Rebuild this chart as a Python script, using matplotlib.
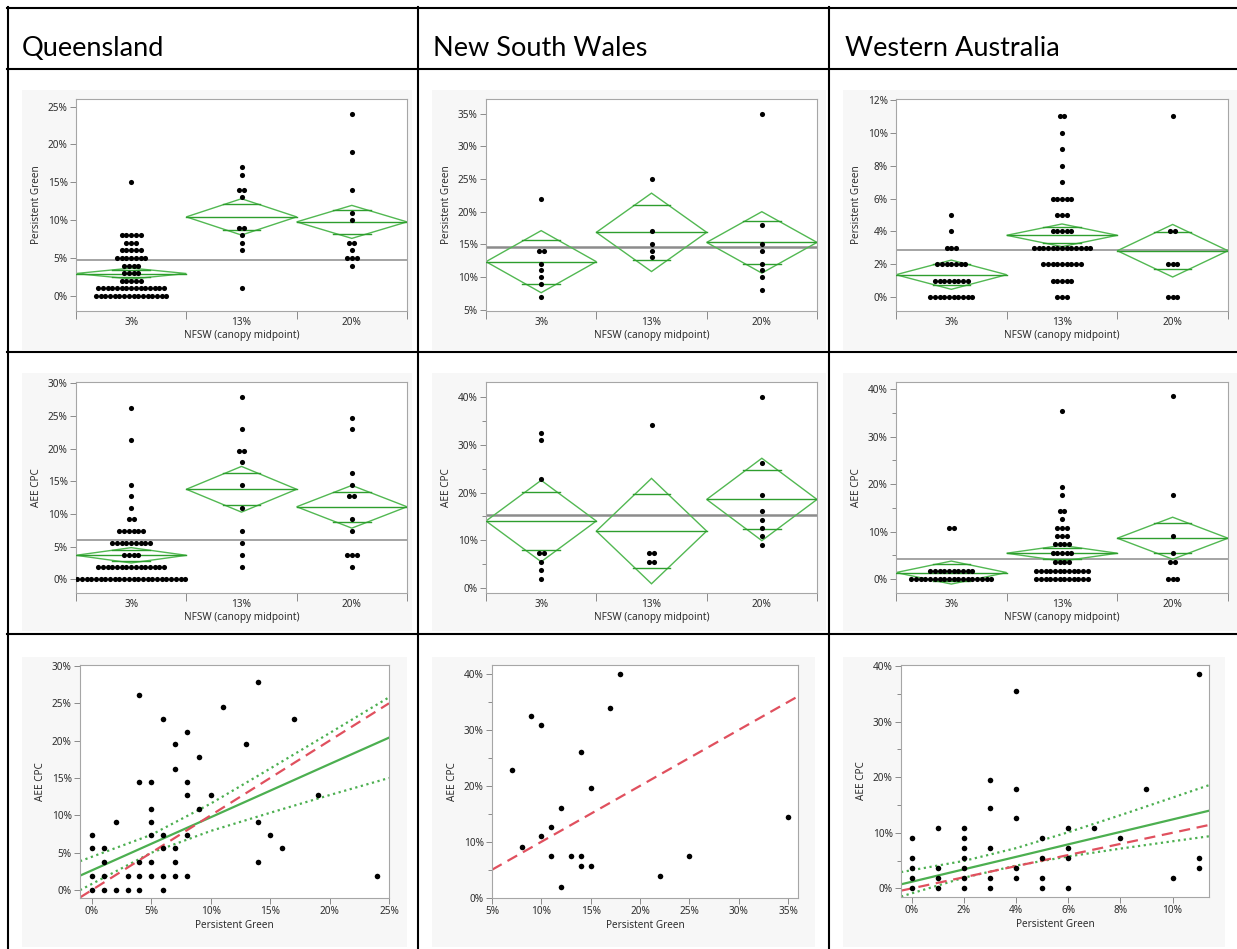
import matplotlib
matplotlib.use('Agg')
import matplotlib.pyplot as plt
import numpy as np
from matplotlib.lines import Line2D
from matplotlib.patches import Rectangle, Polygon
from matplotlib.ticker import FuncFormatter, MultipleLocator, FixedLocator, NullFormatter

plt.rcParams['font.family'] = ['Noto Sans', 'DejaVu Sans']

# ------------------------------------------------------------------ data
states = ["Queensland", "New South Wales", "Western Australia"]
nfsw_levels = ["3%", "13%", "20%"]

# Persistent Green (%) by NFSW group: values and number of sites at each value
qld_pg_vals = [[0, 1, 2, 3, 4, 5, 6, 7, 8, 15], [1, 6, 7, 8, 9, 13, 14, 16, 17], [4, 5, 6, 7, 10, 11, 14, 19, 24]]
qld_pg_counts = [[16, 15, 5, 4, 4, 7, 5, 3, 5, 1], [1, 1, 1, 1, 2, 1, 2, 1, 1], [1, 3, 1, 2, 1, 1, 1, 1, 1]]
nsw_pg_vals = [[7, 9, 10, 11, 12, 14, 22], [13, 14, 15, 17, 25], [8, 10, 11, 12, 14, 15, 18, 35]]
nsw_pg_counts = [[1, 1, 1, 1, 1, 2, 1], [1, 1, 1, 1, 1], [1, 1, 1, 1, 1, 1, 1, 1]]
wa_pg_vals = [[0, 1, 2, 3, 4, 5], [0, 1, 2, 3, 4, 5, 6, 7, 8, 9, 10, 11], [0, 2, 4, 11]]
wa_pg_counts = [[10, 8, 7, 3, 1, 1], [3, 5, 9, 13, 5, 3, 5, 1, 1, 1, 1, 2], [3, 3, 2, 1]]

# AEE CPC (%) by NFSW group
qld_aee_vals = [[0, 1.84, 3.67, 5.56, 7.35, 9.18, 10.97, 12.7, 14.44, 21.33, 26.28],
                [1.84, 3.67, 5.56, 7.35, 10.97, 14.44, 17.9, 19.64, 22.96, 27.86],
                [1.84, 3.67, 7.35, 9.18, 12.7, 14.44, 16.22, 22.96, 24.64]]
qld_aee_counts = [[24, 15, 4, 9, 6, 2, 1, 1, 1, 1, 1], [1, 1, 1, 1, 1, 1, 1, 2, 1, 1], [1, 3, 1, 1, 2, 1, 1, 1, 1]]
nsw_aee_vals = [[1.88, 3.76, 5.57, 7.37, 22.89, 30.89, 32.49], [5.57, 7.37, 34.0],
                [9.04, 10.92, 12.66, 14.33, 16.14, 19.48, 26.09, 40.0]]
nsw_aee_counts = [[1, 1, 1, 2, 1, 1, 1], [2, 2, 1], [1, 1, 1, 1, 1, 1, 1, 1]]
wa_aee_vals = [[0, 1.82, 10.88],
               [0, 1.82, 3.72, 5.56, 7.37, 9.12, 10.88, 12.63, 14.39, 17.75, 19.5, 35.5],
               [0, 3.72, 5.47, 9.12, 17.75, 38.46]]
wa_aee_counts = [[18, 10, 2], [12, 12, 4, 5, 4, 3, 3, 1, 2, 1, 1, 1], [3, 2, 1, 1, 1, 1]]

# Means diamonds: group mean, 95% CI half-width, grand mean
qld_pg_means, qld_pg_ci, qld_pg_grand = [2.95, 10.43, 9.77], [0.72, 2.4, 2.18], 4.71
nsw_pg_means, nsw_pg_ci, nsw_pg_grand = [12.35, 16.84, 15.3], [4.75, 6.0, 4.7], 14.64
wa_pg_means, wa_pg_ci, wa_pg_grand = [1.36, 3.76, 2.82], [0.89, 0.69, 1.6], 2.84
qld_aee_means, qld_aee_ci, qld_aee_grand = [3.67, 13.78, 11.1], [1.17, 3.5, 3.27], 6.02
nsw_aee_means, nsw_aee_ci, nsw_aee_grand = [14.05, 11.95, 18.55], [8.5, 11.0, 8.6], 15.23
wa_aee_means, wa_aee_ci, wa_aee_grand = [1.4, 5.47, 8.63], [2.42, 1.65, 4.42], 4.21

# Scatter: Persistent Green (x) vs AEE CPC (y)
qld_sc_pg = [0, 0, 0, 0, 1, 1, 1, 1, 2, 2, 3, 3, 4, 4, 4, 4, 4, 5, 5, 5, 5, 5, 5, 6, 6, 6, 6, 6,
             7, 7, 7, 7, 7, 8, 8, 8, 8, 8, 9, 9, 10, 11, 13, 14, 14, 14, 15, 16, 17, 19, 24]
qld_sc_aee = [7.37, 5.58, 1.92, 0, 5.58, 3.8, 1.92, 0, 9.15, 0, 1.92, 0, 26.1, 14.4, 3.8, 1.92, 0,
              14.4, 10.9, 9.15, 7.37, 3.8, 1.92, 22.86, 7.37, 5.58, 1.92, 0,
              19.55, 16.16, 5.58, 3.8, 1.92, 21.2, 14.4, 12.7, 7.37, 1.92, 17.86, 10.9, 12.7,
              24.5, 19.55, 27.8, 9.15, 3.8, 7.37, 5.58, 22.86, 12.7, 1.92]
nsw_sc_pg = [7, 8, 9, 10, 10, 11, 11, 12, 12, 13, 14, 14, 14, 15, 15, 17, 18, 22, 25, 35]
nsw_sc_aee = [22.9, 9.1, 32.5, 30.9, 10.97, 12.7, 7.4, 16.1, 1.97, 7.4, 26.1, 7.4, 5.6, 19.55,
              5.6, 34.0, 40.0, 3.8, 7.4, 14.4]
wa_sc_pg = [0, 0, 0, 0, 0, 1, 1, 1, 1, 2, 2, 2, 2, 2, 2, 2, 3, 3, 3, 3, 3, 4, 4, 4, 4, 4,
            5, 5, 5, 5, 6, 6, 6, 6, 7, 8, 9, 10, 11, 11, 11]
wa_sc_aee = [9.1, 5.5, 3.7, 1.86, 0, 10.9, 3.7, 1.86, 0, 10.9, 9.1, 7.3, 5.5, 3.7, 1.86, 0,
             19.55, 14.4, 7.3, 1.86, 0, 35.6, 17.9, 12.6, 3.7, 1.86, 9.1, 5.5, 1.86, 0,
             10.9, 7.3, 5.5, 0, 10.9, 9.1, 17.9, 1.86, 38.5, 5.5, 3.7]

# Linear fits with 95% confidence curves (read along the x range)
qld_fit_x = [-1, 5, 10, 15, 20, 25]
qld_fit_y = [1.92, 6.19, 9.74, 13.3, 16.86, 20.4]
qld_fit_hi = [3.86, 7.39, 11.57, 16.26, 21.01, 25.8]
qld_fit_lo = [-0.02, 4.99, 7.91, 10.34, 12.71, 15.0]
wa_fit_x = [-0.42, 2, 4, 6, 8, 10, 11.4]
wa_fit_y = [0.72, 3.43, 5.67, 7.92, 10.16, 12.4, 13.97]
wa_fit_hi = [2.92, 4.94, 7.24, 10.1, 13.17, 16.33, 18.57]
wa_fit_lo = [-1.48, 1.92, 4.1, 5.74, 7.15, 8.47, 9.37]

# ------------------------------------------------------------------ style
W, H = 1237, 949
fig = plt.figure(figsize=(W / 100, H / 100), dpi=100)

BG = '#f7f7f7'
FRAME = '#a6a6a6'
TXT = '#2e2e2e'
DIAM = '#52b852'
MEANC = '#2e9e2e'
FITG = '#4caf50'
RED = '#e0505e'
MS = 3.7
pct = FuncFormatter(lambda v, p: f"{v:g}%")


def fx(x):
    return x / W


def fy(y):
    return 1 - y / H


def px_axes(l, t, r, b):
    return fig.add_axes([l / W, 1 - b / H, (r - l) / W, (b - t) / H])


def bg(l, t, r, b):
    fig.add_artist(Rectangle((fx(l), fy(b)), (r - l) / W, (b - t) / H, transform=fig.transFigure,
                             facecolor=BG, edgecolor='none', zorder=0))


def style_axes(ax):
    for s in ax.spines.values():
        s.set_color(FRAME)
        s.set_linewidth(0.8)
    ax.tick_params(axis='both', which='both', colors='#8a8a8a', labelcolor=TXT,
                   labelsize=7.2, width=0.7)
    ax.tick_params(axis='y', which='major', length=4, pad=2)
    ax.tick_params(axis='y', which='minor', length=3)
    ax.yaxis.set_major_formatter(pct)


def oneway(box, vals, counts, means, ci, grand, ylim, ystep, yminor, ylabel, grand_lw=1.1):
    ax = px_axes(*box)
    ax.set_facecolor('white')
    ax.set_xlim(-0.5, 2.5)
    ax.set_ylim(*ylim)
    upp = 3.0 / (box[2] - box[0])  # data units per pixel
    sp = 4.7 * upp
    ax.axhline(grand, color='#8c8c8c', lw=grand_lw, zorder=1)
    for g in range(3):
        m, h = means[g], ci[g]
        ax.add_patch(Polygon([[g - 0.5, m], [g, m + h], [g + 0.5, m], [g, m - h]], closed=True,
                             fill=False, edgecolor=DIAM, lw=1.0, zorder=2))
        ax.plot([g - 0.5, g + 0.5], [m, m], color=MEANC, lw=1.0, zorder=3)
        o = h / np.sqrt(2)
        for yy in (m + o, m - o):
            ax.plot([g - 0.17, g + 0.17], [yy, yy], color=MEANC, lw=1.0, zorder=3)
        for v, c in zip(vals[g], counts[g]):
            xs = g + (np.arange(c) - (c - 1) / 2.0) * sp
            ax.plot(xs, [v] * c, 'o', ms=MS, color='black', mec='none', zorder=4)
    style_axes(ax)
    ax.yaxis.set_major_locator(MultipleLocator(ystep))
    if yminor:
        ax.yaxis.set_minor_locator(MultipleLocator(yminor))
    ax.xaxis.set_major_locator(FixedLocator([-0.5, 0.5, 1.5, 2.5]))
    ax.xaxis.set_major_formatter(NullFormatter())
    ax.xaxis.set_minor_locator(FixedLocator([0, 1, 2]))
    ax.set_xticklabels(nfsw_levels, minor=True)
    ax.tick_params(axis='x', which='major', length=6)
    ax.tick_params(axis='x', which='minor', length=0, pad=4)
    ax.set_xlabel("NFSW (canopy midpoint)", fontsize=7.2, color=TXT, labelpad=2)
    ax.set_ylabel(ylabel, fontsize=7.2, color=TXT, labelpad=4)
    return ax


def scatter(box, xs, ys, xlim, ylim, xstep, ystep, yminor, fit=None):
    ax = px_axes(*box)
    ax.set_facecolor('white')
    ax.set_xlim(*xlim)
    ax.set_ylim(*ylim)
    if fit is not None:
        fxs, fyv, fhi, flo = fit
        ax.plot(fxs, fhi, color=FITG, lw=1.6, ls=(0, (1, 1.6)), zorder=2)
        ax.plot(fxs, flo, color=FITG, lw=1.6, ls=(0, (1, 1.6)), zorder=2)
        ax.plot(fxs, fyv, color=FITG, lw=1.6, zorder=2)
    ax.axline((0, 0), slope=1, color=RED, lw=1.6, ls=(0, (5, 3)), zorder=2)
    ax.plot(xs, ys, 'o', ms=4.0, color='black', mec='none', zorder=4)
    style_axes(ax)
    ax.xaxis.set_major_formatter(pct)
    ax.xaxis.set_major_locator(MultipleLocator(xstep))
    ax.yaxis.set_major_locator(MultipleLocator(ystep))
    if yminor:
        ax.yaxis.set_minor_locator(MultipleLocator(yminor))
    ax.tick_params(axis='x', which='major', length=4, pad=2)
    ax.set_xlabel("Persistent Green", fontsize=7.2, color=TXT, labelpad=2)
    ax.set_ylabel("AEE CPC", fontsize=7.2, color=TXT, labelpad=4)
    return ax


# ------------------------------------------------------------------ backgrounds
for (l, r) in [(22, 412), (432, 826), (843, 1237)]:
    bg(l, 90, r, 350)
    bg(l, 373, r, 631)
for (l, r) in [(22, 407), (432, 815), (843, 1225)]:
    bg(l, 657, r, 947)

# ------------------------------------------------------------------ row 1: Persistent Green
oneway((76, 99, 407, 311), qld_pg_vals, qld_pg_counts, qld_pg_means, qld_pg_ci, qld_pg_grand,
       (-2, 26), 5, None, "Persistent Green")
oneway((486, 99, 817, 311), nsw_pg_vals, nsw_pg_counts, nsw_pg_means, nsw_pg_ci, nsw_pg_grand,
       (4.8, 37.25), 5, None, "Persistent Green", grand_lw=1.8)
oneway((896, 99, 1228, 311), wa_pg_vals, wa_pg_counts, wa_pg_means, wa_pg_ci, wa_pg_grand,
       (-0.85, 12.06), 2, None, "Persistent Green")

# ------------------------------------------------------------------ row 2: AEE CPC
oneway((76, 382, 407, 593), qld_aee_vals, qld_aee_counts, qld_aee_means, qld_aee_ci, qld_aee_grand,
       (-2.1, 30.2), 5, None, "AEE CPC")
oneway((486, 382, 817, 593), nsw_aee_vals, nsw_aee_counts, nsw_aee_means, nsw_aee_ci, nsw_aee_grand,
       (-0.98, 43.07), 10, 5, "AEE CPC", grand_lw=1.8)
oneway((896, 382, 1228, 593), wa_aee_vals, wa_aee_counts, wa_aee_means, wa_aee_ci, wa_aee_grand,
       (-2.9, 41.5), 10, 5, "AEE CPC")

# ------------------------------------------------------------------ row 3: scatter
scatter((80, 665, 389, 898), qld_sc_pg, qld_sc_aee, (-1, 25), (-1.07, 30.13), 5, 5, None,
        fit=(qld_fit_x, qld_fit_y, qld_fit_hi, qld_fit_lo))
scatter((492, 665, 798, 898), nsw_sc_pg, nsw_sc_aee, (5, 36), (-0.05, 41.6), 5, 10, 5)
scatter((901, 665, 1209, 897), wa_sc_pg, wa_sc_aee, (-0.42, 11.4), (-1.56, 40.2), 2, 10, 5,
        fit=(wa_fit_x, wa_fit_y, wa_fit_hi, wa_fit_lo))

# ------------------------------------------------------------------ table grid and headers
def hline(y, x0, x1):
    fig.add_artist(Line2D([fx(x0), fx(x1)], [fy(y), fy(y)], transform=fig.transFigure,
                          color='black', lw=1.5, zorder=10))


def vline(x, y0, y1):
    fig.add_artist(Line2D([fx(x), fx(x)], [fy(y0), fy(y1)], transform=fig.transFigure,
                          color='black', lw=1.5, zorder=10))


for y in (8, 69, 352, 634):
    hline(y, 7, 1237)
for x in (8, 418.5, 829):
    vline(x, 7, 949)

for x, name in zip((22, 433, 845), states):
    fig.text(fx(x), fy(48), name, fontsize=19.5, family=['Lato', 'DejaVu Sans'],
             ha='left', va='center', color='black')

fig.savefig('out.png', dpi=100, facecolor='white')
